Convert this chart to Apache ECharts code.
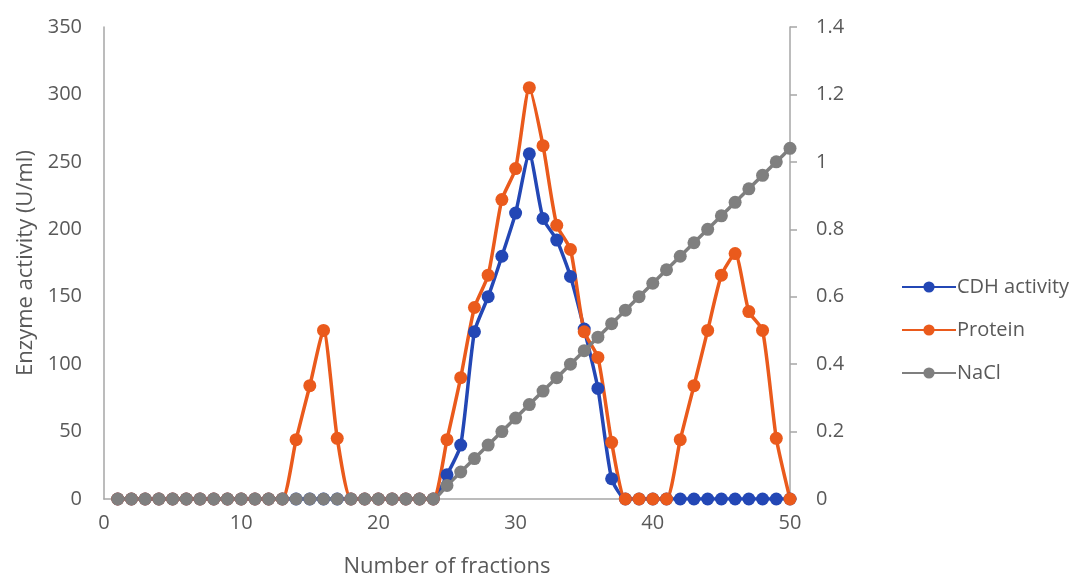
<!DOCTYPE html>
<html>
<head>
<meta charset="utf-8">
<script src="https://cdn.jsdelivr.net/npm/echarts@6/dist/echarts.min.js"></script>
<style>
  html, body { margin: 0; padding: 0; background: #fff; }
  #main { width: 1073px; height: 579px; }
</style>
</head>
<body>
<div id="main"></div>
<script>
// fraction numbers 1..50
var fractions = [1,2,3,4,5,6,7,8,9,10,11,12,13,14,15,16,17,18,19,20,21,22,23,24,25,
  26,27,28,29,30,31,32,33,34,35,36,37,38,39,40,41,42,43,44,45,46,47,48,49,50];

// CDH activity (U/ml)
var cdhActivity = [0,0,0,0,0,0,0,0,0,0,0,0,0,0,0,0,0,0,0,0,0,0,0,0,18,
  40,124,150,180,212,256,208,192,165,126,82,15,0,0,0,0,0,0,0,0,0,0,0,0,0];

// Protein
var protein = [0,0,0,0,0,0,0,0,0,0,0,0,0,44,84,125,45,0,0,0,0,0,0,0,44,
  90,142,166,222,245,305,262,203,185,124,105,42,0,0,0,0,44,84,125,166,182,139,125,45,0];

// NaCl (M), right axis
var nacl = [0,0,0,0,0,0,0,0,0,0,0,0,0,0,0,0,0,0,0,0,0,0,0,0,0.04,
  0.08,0.12,0.16,0.2,0.24,0.28,0.32,0.36,0.4,0.44,0.48,0.52,0.56,0.6,0.64,
  0.68,0.72,0.76,0.8,0.84,0.88,0.92,0.96,1.0,1.04];

function pairs(vals) {
  return fractions.map(function (f, i) { return [f, vals[i]]; });
}

var txt = '#595959';
var axisCol = '#a6a6a6';
var font = 'Open Sans, Noto Sans, sans-serif';

var chart = echarts.init(document.getElementById('main'));
var option = {
  animation: false,
  textStyle: { fontFamily: font },
  grid: { left: 104, right: 283, top: 27, bottom: 80, containLabel: false, outerBoundsMode: 'none' },
  legend: {
    orient: 'vertical',
    left: 896,
    top: 272,
    itemWidth: 54,
    itemHeight: 14,
    itemGap: 23,
    textStyle: { fontSize: 20, color: txt, fontFamily: font, padding: [0, 0, 0, -4] },
    data: ['CDH activity', 'Protein', 'NaCl']
  },
  xAxis: {
    type: 'value',
    min: 0, max: 50, interval: 10,
    name: 'Number of fractions',
    nameLocation: 'middle',
    nameGap: 57,
    nameTextStyle: { fontSize: 22, color: txt },
    axisLine: { lineStyle: { color: axisCol, width: 1.5 } },
    axisTick: { show: false },
    axisLabel: { fontSize: 20, color: txt, margin: 14 },
    splitLine: { show: false }
  },
  yAxis: [{
    type: 'value',
    min: 0, max: 350, interval: 50,
    name: 'Enzyme activity (U/ml)',
    nameLocation: 'middle',
    nameGap: 67,
    nameTextStyle: { fontSize: 22, color: txt },
    axisLine: { show: true, lineStyle: { color: axisCol, width: 1.5 } },
    axisTick: { show: false },
    axisLabel: { fontSize: 20, color: txt, margin: 22 },
    splitLine: { show: false }
  }, {
    type: 'value',
    min: 0, max: 1.4, interval: 0.2,
    position: 'right',
    axisLine: { show: true, lineStyle: { color: axisCol, width: 1.5 } },
    axisTick: { show: true, length: 7, lineStyle: { color: axisCol, width: 1.5 } },
    axisLabel: { fontSize: 20, color: txt, margin: 26 },
    splitLine: { show: false }
  }],
  series: [{
    name: 'CDH activity',
    type: 'line',
    yAxisIndex: 0,
    data: pairs(cdhActivity),
    smooth: 0.2,
    symbol: 'circle',
    symbolSize: 13,
    color: '#2347b5',
    lineStyle: { width: 3.5 }
  }, {
    name: 'Protein',
    type: 'line',
    yAxisIndex: 0,
    data: pairs(protein),
    smooth: 0.2,
    symbol: 'circle',
    symbolSize: 13,
    color: '#ea5a1c',
    lineStyle: { width: 3.5 }
  }, {
    name: 'NaCl',
    type: 'line',
    yAxisIndex: 1,
    data: pairs(nacl),
    smooth: 0.2,
    symbol: 'circle',
    symbolSize: 13,
    color: '#7f7f7f',
    lineStyle: { width: 3.5 }
  }]
};
chart.setOption(option);
</script>
</body>
</html>
